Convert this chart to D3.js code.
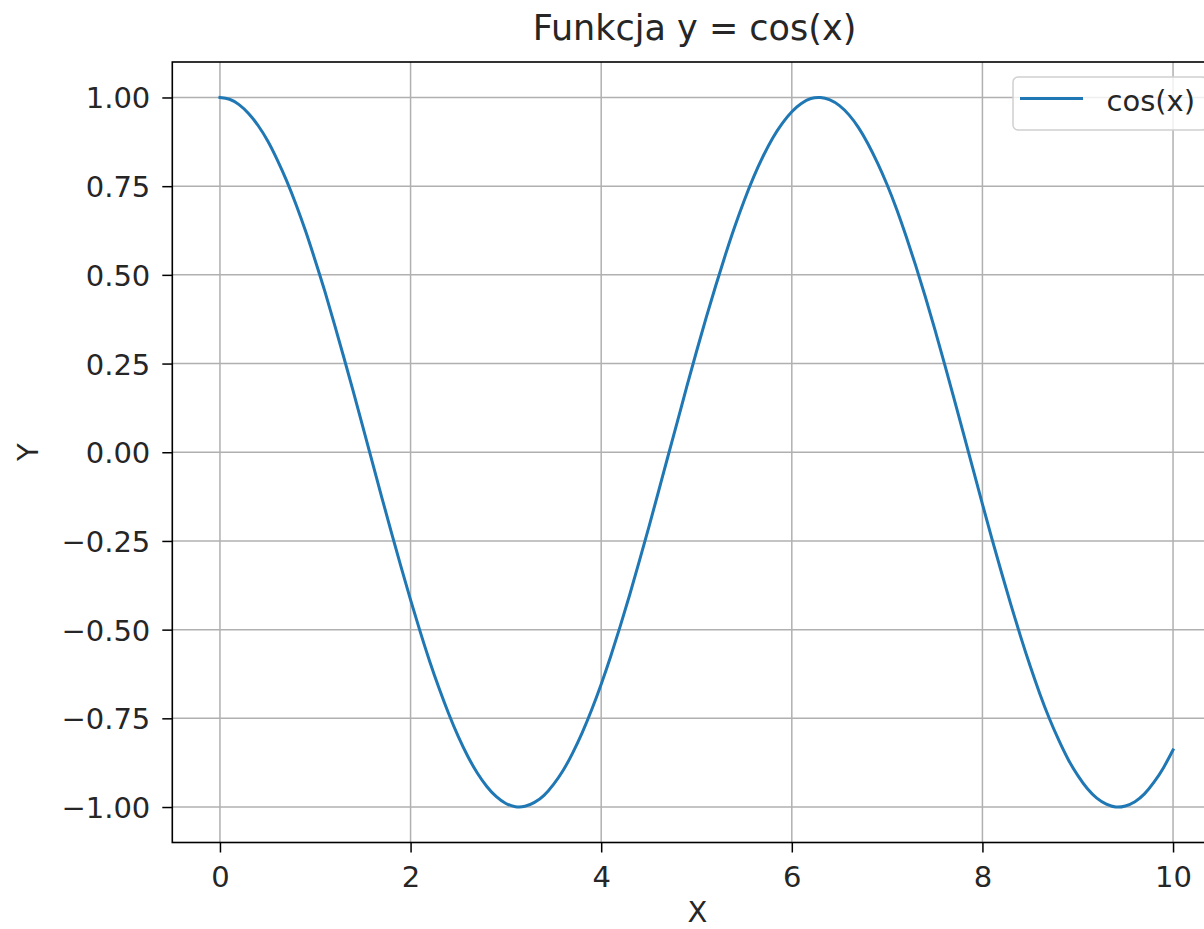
<!DOCTYPE html>
<html>
<head>
<meta charset="utf-8">
<script src="https://cdn.jsdelivr.net/npm/d3@7"></script>
<style>
  html, body { margin: 0; padding: 0; background: #fff; }
  svg { display: block; }
  text { font-family: "DejaVu Sans", sans-serif; fill: #262626; }
</style>
</head>
<body>
<svg id="chart" width="1204" height="929"></svg>
<script>
// ---- data ----
const xValues = [
  0.0, 0.1, 0.2, 0.3, 0.4, 0.5, 0.6, 0.7, 0.8, 0.9,
  1.0, 1.1, 1.2, 1.3, 1.4, 1.5, 1.6, 1.7, 1.8, 1.9,
  2.0, 2.1, 2.2, 2.3, 2.4, 2.5, 2.6, 2.7, 2.8, 2.9,
  3.0, 3.1, 3.2, 3.3, 3.4, 3.5, 3.6, 3.7, 3.8, 3.9,
  4.0, 4.1, 4.2, 4.3, 4.4, 4.5, 4.6, 4.7, 4.8, 4.9,
  5.0, 5.1, 5.2, 5.3, 5.4, 5.5, 5.6, 5.7, 5.8, 5.9,
  6.0, 6.1, 6.2, 6.3, 6.4, 6.5, 6.6, 6.7, 6.8, 6.9,
  7.0, 7.1, 7.2, 7.3, 7.4, 7.5, 7.6, 7.7, 7.8, 7.9,
  8.0, 8.1, 8.2, 8.3, 8.4, 8.5, 8.6, 8.7, 8.8, 8.9,
  9.0, 9.1, 9.2, 9.3, 9.4, 9.5, 9.6, 9.7, 9.8, 9.9,
  10.0];
const yValues = [
  1.000, 0.995, 0.980, 0.955, 0.921, 0.878, 0.825, 0.765, 0.697, 0.622,
  0.540, 0.454, 0.362, 0.267, 0.170, 0.071, -0.029, -0.129, -0.227, -0.323,
  -0.416, -0.505, -0.589, -0.666, -0.737, -0.801, -0.857, -0.904, -0.942, -0.971,
  -0.990, -0.999, -0.998, -0.987, -0.967, -0.936, -0.897, -0.848, -0.791, -0.726,
  -0.654, -0.575, -0.490, -0.401, -0.307, -0.211, -0.112, -0.012, 0.087, 0.187,
  0.284, 0.378, 0.468, 0.554, 0.635, 0.709, 0.776, 0.835, 0.886, 0.927,
  0.960, 0.983, 0.997, 1.000, 0.993, 0.977, 0.951, 0.915, 0.869, 0.815,
  0.754, 0.685, 0.608, 0.526, 0.439, 0.347, 0.251, 0.153, 0.054, -0.046,
  -0.146, -0.244, -0.339, -0.431, -0.519, -0.602, -0.679, -0.749, -0.811, -0.866,
  -0.911, -0.948, -0.975, -0.992, -1.000, -0.997, -0.985, -0.963, -0.930, -0.889,
  -0.839];
const xTicks = [0, 2, 4, 6, 8, 10];
const yTicks = [-1.00, -0.75, -0.50, -0.25, 0.00, 0.25, 0.50, 0.75, 1.00];
const seriesName = "cos(x)";
const titleText = "Funkcja y = cos(x)";
const xLabel = "X";
const yLabel = "Y";

// ---- layout ----
const svg = d3.select("#chart");
const plot = { left: 172.3, right: 1220.7, top: 62, bottom: 842.5 };
const x = d3.scaleLinear().domain([-0.5, 10.5]).range([plot.left, plot.right]);
const y = d3.scaleLinear().domain([-1.1, 1.1]).range([plot.bottom, plot.top]);
const fontSize = 29;
const blue = "#1f77b4";

// grid
const grid = svg.append("g");
grid.selectAll("line.gx").data(xTicks).join("line")
  .attr("x1", d => x(d)).attr("x2", d => x(d))
  .attr("y1", plot.top).attr("y2", plot.bottom)
  .attr("stroke", "#b0b0b0").attr("stroke-width", 1.5);
grid.selectAll("line.gy").data(yTicks).join("line")
  .attr("x1", plot.left).attr("x2", plot.right)
  .attr("y1", d => y(d)).attr("y2", d => y(d))
  .attr("stroke", "#b0b0b0").attr("stroke-width", 1.5);

// line
const pts = xValues.map((v, i) => [v, yValues[i]]);
const line = d3.line().x(d => x(d[0])).y(d => y(d[1])).curve(d3.curveNatural);
svg.append("path").datum(pts)
  .attr("d", line)
  .attr("fill", "none")
  .attr("stroke", blue)
  .attr("stroke-width", 3)
  .attr("stroke-linejoin", "round")
  .attr("stroke-linecap", "square");

// axes using d3 axis generators
const fmtY = v => d3.format(".2f")(v).replace("-", "\u2212");
const xAxis = d3.axisBottom(x).tickValues(xTicks).tickFormat(d3.format("d")).tickSize(10).tickPadding(14);
const yAxis = d3.axisLeft(y).tickValues(yTicks).tickFormat(fmtY).tickSize(10).tickPadding(12);

const gx = svg.append("g").attr("transform", `translate(0,${plot.bottom})`).call(xAxis);
const gy = svg.append("g").attr("transform", `translate(${plot.left},0)`).call(yAxis);
[gx, gy].forEach(g => {
  g.select(".domain").remove();
  g.selectAll(".tick line").attr("stroke", "#000").attr("stroke-width", 1.5);
  g.selectAll(".tick text").attr("font-family", "DejaVu Sans").attr("font-size", fontSize).attr("fill", "#262626");
});
gx.selectAll(".tick text").attr("dy", "0.71em");
gy.selectAll(".tick text").attr("dy", "0.36em");

// spines
svg.append("rect")
  .attr("x", plot.left).attr("y", plot.top)
  .attr("width", plot.right - plot.left).attr("height", plot.bottom - plot.top)
  .attr("fill", "none").attr("stroke", "#000").attr("stroke-width", 1.6);

// title and labels
svg.append("text").attr("x", (plot.left + plot.right) / 2 - 2).attr("y", 40)
  .attr("text-anchor", "middle").attr("font-size", 35).text(titleText);
svg.append("text").attr("x", (plot.left + plot.right) / 2 + 1).attr("y", 922)
  .attr("text-anchor", "middle").attr("font-size", fontSize).text(xLabel);
svg.append("text").attr("transform", `translate(38,${(plot.top + plot.bottom) / 2}) rotate(-90)`)
  .attr("text-anchor", "middle").attr("font-size", fontSize).text(yLabel);

// legend
const leg = svg.append("g");
leg.append("rect").attr("x", 1013).attr("y", 77).attr("width", 194).attr("height", 53)
  .attr("rx", 5).attr("fill", "#fff").attr("fill-opacity", 0.8)
  .attr("stroke", "#d0d0d0").attr("stroke-width", 1.5);
leg.append("line").attr("x1", 1020).attr("x2", 1083).attr("y1", 98.5).attr("y2", 98.5)
  .attr("stroke", blue).attr("stroke-width", 3);
leg.append("text").attr("x", 1106.5).attr("y", 111).attr("font-size", fontSize).text(seriesName);
</script>
</body>
</html>
